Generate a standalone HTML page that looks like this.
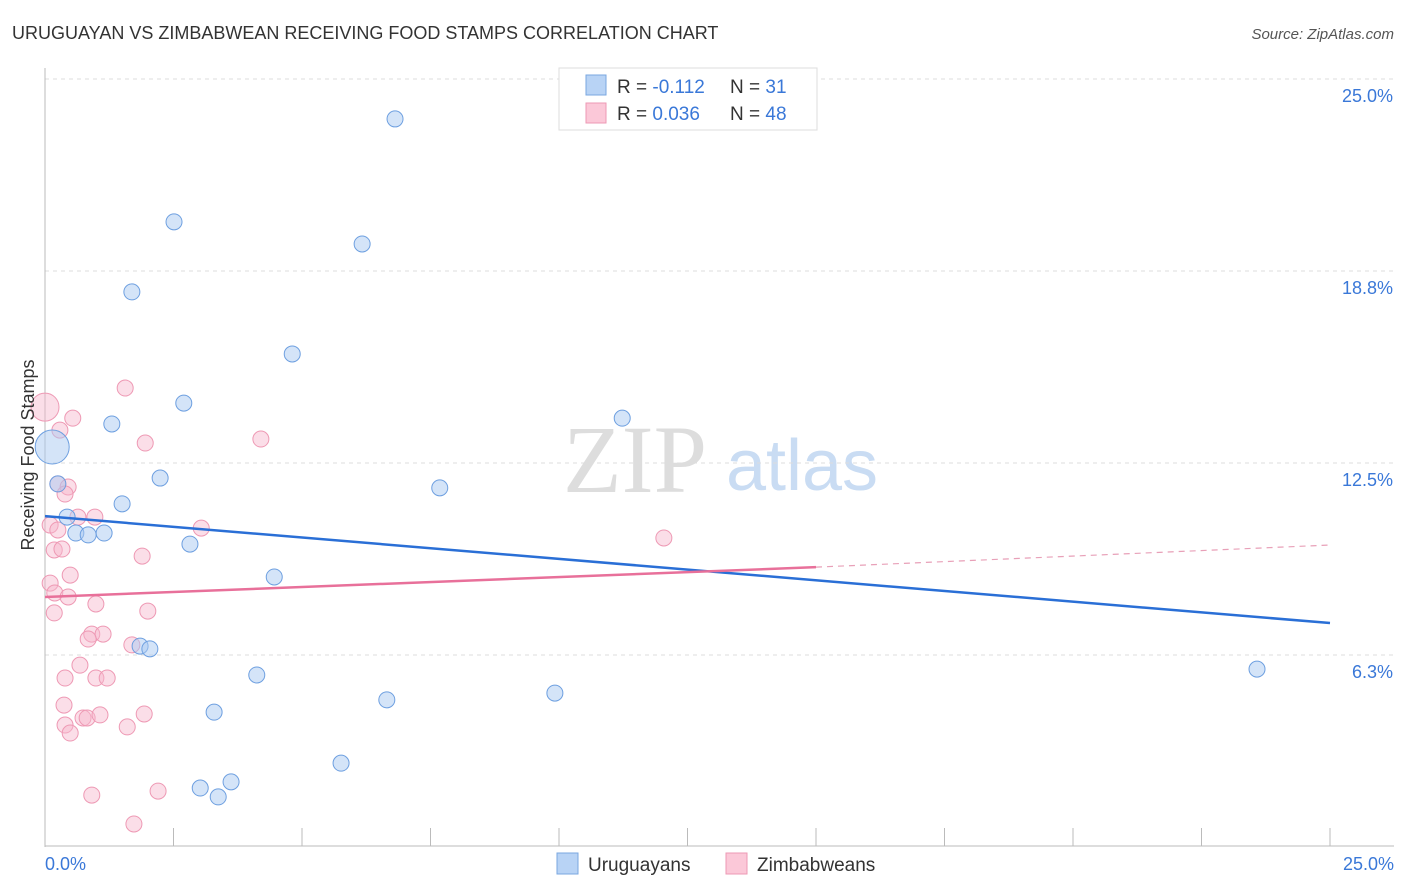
<!DOCTYPE html>
<html><head><meta charset="utf-8"><style>
body{margin:0;background:#fff;font-family:"Liberation Sans",sans-serif}
svg{display:block}
</style></head><body>
<svg id="chart" width="1406" height="892">
<text x="12" y="39" font-size="18" fill="#333">URUGUAYAN VS ZIMBABWEAN RECEIVING FOOD STAMPS CORRELATION CHART</text>
<text x="1394" y="39" font-size="15" fill="#555" font-style="italic" text-anchor="end">Source: ZipAtlas.com</text>
<text x="635" y="492" font-size="96" fill="#ddd" font-family="Liberation Serif,serif" text-anchor="middle">ZIP</text>
<text x="802" y="490" font-size="72" fill="#c9dcf3" text-anchor="middle">atlas</text>
<g id="grid"></g><g id="axes"></g><g id="marks"></g>
<text transform="translate(34,455) rotate(-90)" font-size="18" fill="#333" text-anchor="middle">Receiving Food Stamps</text>
<g>
<rect x="559" y="68" width="258" height="62" fill="#fff" stroke="#ddd"/>
<rect x="586" y="75" width="20" height="20" fill="#b8d3f5" stroke="#7aa7e0"/>
<rect x="586" y="103" width="20" height="20" fill="#fbc8d8" stroke="#ee99b4"/>
<text x="617" y="93" font-size="19" fill="#333">R = <tspan fill="#3a78d8">-0.112</tspan></text>
<text x="730" y="93" font-size="19" fill="#333">N = <tspan fill="#3a78d8"> 31</tspan></text>
<text x="617" y="120" font-size="19" fill="#333">R = <tspan fill="#3a78d8">0.036</tspan></text>
<text x="730" y="120" font-size="19" fill="#333">N = <tspan fill="#3a78d8">48</tspan></text>
</g>
<g>
<rect x="557" y="853" width="21" height="21" fill="#b8d3f5" stroke="#7aa7e0"/>
<text x="588" y="871" font-size="19" fill="#333">Uruguayans</text>
<rect x="726" y="853" width="21" height="21" fill="#fbc8d8" stroke="#ee99b4"/>
<text x="757" y="871" font-size="19" fill="#333">Zimbabweans</text>
</g>
</svg>
<script>
const yTicks=[25.0,18.8,12.5,6.3];
const yTickVals=[25,18.75,12.5,6.25];
const xTickLabels=["0.0%","25.0%"];
const blueX=[6.81,2.51,6.17,1.69,4.81,2.70,1.30,11.23,0.14,2.24,7.68,0.25,1.50,0.43,0.60,0.84,1.15,2.82,4.46,1.85,2.04,4.12,3.29,6.65,9.92,23.58,5.76,3.02,3.62,3.37];
const blueY=[23.70,20.35,19.63,18.07,16.05,14.45,13.77,13.96,13.02,12.01,11.69,11.82,11.17,10.74,10.22,10.16,10.22,9.86,8.79,6.54,6.45,5.60,4.39,4.79,5.01,5.79,2.73,1.92,2.12,1.63];
const blueR=[8,8,8,8,8,8,8,8,17,8,8,8,8,8,8,8,8,8,8,8,8,8,8,8,8,8,8,8,8,8];
const pinkX=[0,0.54,1.56,0.29,1.95,4.20,0.25,0.45,0.39,0.10,0.25,0.64,0.97,0.18,0.33,3.04,12.04,1.89,0.49,0.10,0.19,0.45,0.99,2.00,0.18,0.91,1.13,0.84,1.69,0.68,0.99,1.21,0.39,0.37,0.74,0.82,1.07,1.93,0.39,0.49,1.60,0.91,2.20,1.73];
const pinkY=[14.32,13.96,14.94,13.57,13.15,13.28,11.82,11.72,11.49,10.48,10.32,10.74,10.74,9.67,9.70,10.38,10.06,9.47,8.85,8.59,8.27,8.14,7.91,7.68,7.62,6.93,6.93,6.77,6.58,5.92,5.50,5.50,5.50,4.62,4.20,4.20,4.30,4.33,3.97,3.71,3.91,1.69,1.82,0.75];
const blueTrend=[10.77,7.29];
const pinkTrend=[8.14,9.11,9.83];
const X=v=>45+v/25*1285, Y=v=>847-v/25*768;
const NS="http://www.w3.org/2000/svg";
function mk(t,a,p){const e=document.createElementNS(NS,t);for(const k in a)e.setAttribute(k,a[k]);p.appendChild(e);return e;}
const grid=document.getElementById('grid'),axes=document.getElementById('axes'),marks=document.getElementById('marks');
yTickVals.forEach((v,i)=>{
 const l=mk('line',{x1:45,x2:1394,y1:Y(v),y2:Y(v),stroke:'#ddd','stroke-dasharray':'4,4'},grid);
 
 
 const t=mk('text',{x:1393,y:Y(v)+23,'font-size':18,fill:'#3a78d8','text-anchor':'end'},axes);
 t.textContent=yTicks[i].toFixed(1)+'%';
 
 
});
mk('line',{x1:45,x2:45,y1:68,y2:847,stroke:'#bbb'},axes);
mk('line',{x1:45,x2:1394,y1:846,y2:846,stroke:'#bbb'},axes);
for(let i=0;i<=10;i++){const x=X(i*2.5);mk('line',{x1:x,x2:x,y1:828,y2:846,stroke:'#bbb'},axes);}
const t0=mk('text',{x:45,y:870,'font-size':18,fill:'#3a78d8'},axes);t0.textContent=xTickLabels[0];


const t1=mk('text',{x:1394,y:870,'font-size':18,fill:'#3a78d8','text-anchor':'end'},axes);t1.textContent=xTickLabels[1];


pinkX.forEach((v,i)=>{
 const c=mk('circle',{cx:X(v),cy:Y(pinkY[i]),r:i==0?14:8,fill:'#f7b6cb','fill-opacity':0.45,stroke:'#ee99b4','stroke-width':1},marks);
 
 
});
blueX.forEach((v,i)=>{
 const c=mk('circle',{cx:X(v),cy:Y(blueY[i]),r:blueR[i],fill:'#a9c9f2','fill-opacity':0.5,stroke:'#6d9fe0','stroke-width':1},marks);
 
 
});
const bl=mk('line',{x1:X(0),y1:Y(blueTrend[0]),x2:X(25),y2:Y(blueTrend[1]),stroke:'#2a6fd6','stroke-width':2.5},marks);


const pl=mk('line',{x1:X(0),y1:Y(pinkTrend[0]),x2:X(15),y2:Y(pinkTrend[1]),stroke:'#e8709a','stroke-width':2.5},marks);


const pd=mk('line',{x1:X(15),y1:Y(pinkTrend[1]),x2:X(25),y2:Y(pinkTrend[2]),stroke:'#e8a0b8','stroke-width':1.2,'stroke-dasharray':'6,5'},marks);


</script>
</body></html>
